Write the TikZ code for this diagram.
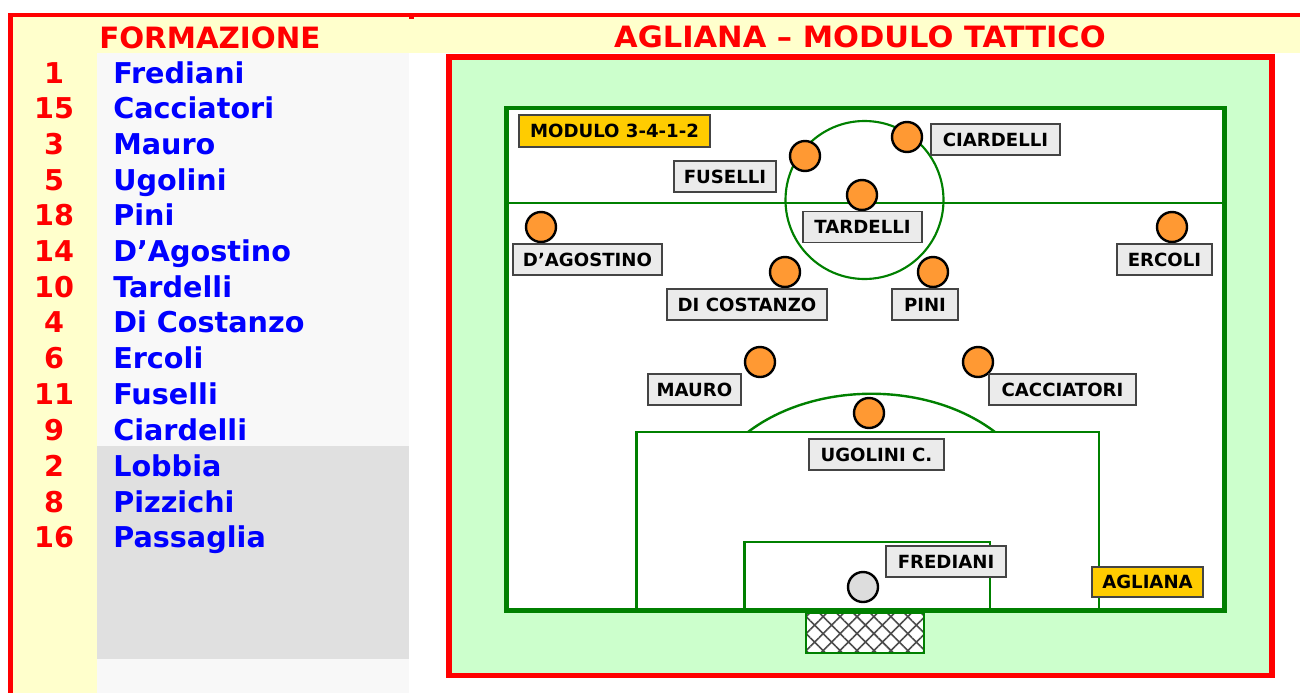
\documentclass[tikz,border=0pt]{standalone}
\usepackage{fontspec}
\setmainfont{DejaVu Sans}
\usetikzlibrary{patterns.meta}
\definecolor{hdr}{HTML}{FFFFCC}
\definecolor{rowlight}{HTML}{F8F8F8}
\definecolor{rowgray}{HTML}{E0E0E0}
\definecolor{fieldgreen}{HTML}{CCFFCC}
\definecolor{linegreen}{HTML}{008000}
\definecolor{orangep}{HTML}{FF9933}
\definecolor{boxgray}{HTML}{EBEBEB}
\definecolor{boxline}{HTML}{444444}
\definecolor{goldbox}{HTML}{FFCC00}
\definecolor{keepergray}{HTML}{DDDDDD}
\definecolor{pured}{HTML}{FF0000}
\definecolor{pureblue}{HTML}{0000FF}
\newcommand\upx{0.75pt}
\newcommand\myListFont{\fontsize{21.5}{25}\selectfont\bfseries}
\newcommand\myTitleFont{\fontsize{22}{26}\selectfont\bfseries}
\newcommand\myLabFont{\fontsize{13.6}{16}\selectfont\bfseries}
\begin{document}
\begin{tikzpicture}[x=0.75pt,y=-0.75pt,
  numtxt/.style={anchor=base, text=pured, font=\myListFont, inner sep=0pt},
  nametxt/.style={anchor=base west, text=pureblue, font=\myListFont, inner sep=0pt},
  titletxt/.style={text=pured, font=\myTitleFont, inner sep=0pt},
  player/.style={circle, draw=black, line width=1.8pt, fill=orangep, minimum size=30*\upx, inner sep=0pt},
  keeper/.style={player, fill=keepergray},
  lab/.style={rectangle, draw=boxline, line width=0.8pt, fill=boxgray, minimum height=31*\upx, inner sep=0pt, font=\myLabFont, text=black},
  goldlab/.style={lab, fill=goldbox},
  pitchline/.style={draw=linegreen, line width=1.8pt}
]
\useasboundingbox (0,0) rectangle (1300,693);
% backgrounds
\fill[white] (0,0) rectangle (1300,693);
\fill[hdr] (13,17) rectangle (1300,53);
\fill[hdr] (13,53) rectangle (97,693);
\fill[rowlight] (97,53) rectangle (409,446);
\fill[rowgray] (97,446) rectangle (409,659);
\fill[rowlight] (97,659) rectangle (409,693);
\fill[pured] (8,13) rectangle (1300,17);
\fill[pured] (8,13) rectangle (13,693);
\fill[pured] (409,15) rectangle (414,18.5);
% titles
\node[titletxt, anchor=base west] (tform) at (99,48) {FORMAZIONE};
\node[titletxt, anchor=base] (tmod) at (860,47) {\scalebox{1.04}[1]{AGLIANA – MODULO TATTICO}};
% list
\foreach \n/\nm/\yy [count=\i] in {1/Frediani/83, 15/Cacciatori/118, 3/Mauro/154, 5/Ugolini/190, 18/Pini/225, 14/D’Agostino/261, 10/Tardelli/297, 4/Di Costanzo/332, 6/Ercoli/368, 11/Fuselli/404, 9/Ciardelli/440, 2/Lobbia/476, 8/Pizzichi/512, 16/Passaglia/547}{
  \node[numtxt] (num\i) at (54,\yy) {\n};
  \node[nametxt] (name\i) at (113,\yy) {\nm};
}
% field frame
\draw[pured, line width=4.4pt, fill=fieldgreen] (449,57) rectangle (1272,675.5);
% pitch
\draw[draw=linegreen, line width=3.6pt, fill=white] (506.5,108) rectangle (1224.5,610.5);
\draw[pitchline] (506.5,203) -- (1224.5,203);
\draw[pitchline, line width=1.6pt] (864.5,200) circle[radius=79];
\draw[pitchline] (748,432) .. controls (815,381) and (928,381) .. (995,432);
\draw[pitchline, line width=2pt] (636.5,610) -- (636.5,432) -- (1099,432) -- (1099,610);
\draw[pitchline, line width=2pt] (744.5,610) -- (744.5,542) -- (990,542) -- (990,610);
% goal net
\fill[white] (806,613) rectangle (924,652.5);
\fill[pattern={Hatch[angle=45,distance=9pt,line width=1.2pt]}, pattern color=black!70] (806,613) rectangle (924,652.5);
\draw[draw=linegreen, line width=1.5pt] (806,613) rectangle (924,652.5);
% players
\node[player] (pCiardelli) at (907,137) {};
\node[player] (pFuselli) at (805,156) {};
\node[player] (pTardelli) at (862,195) {};
\node[player] (pDAgostino) at (541,227) {};
\node[player] (pErcoli) at (1172,227) {};
\node[player] (pDiCostanzo) at (785,272) {};
\node[player] (pPini) at (933,272) {};
\node[player] (pMauro) at (760,362) {};
\node[player] (pCacciatori) at (978,362) {};
\node[player] (pUgolini) at (869,413) {};
\node[keeper] (pFrediani) at (863,587) {};
% labels
\node[goldlab, minimum width=191*\upx, minimum height=32*\upx] (lModulo) at (614.5,131) {MODULO 3-4-1-2};
\node[lab, minimum width=129*\upx] (lCiardelli) at (995.5,139.5) {CIARDELLI};
\node[lab, minimum width=102*\upx] (lFuselli) at (725,176.5) {FUSELLI};
\node[lab, minimum width=119*\upx] (lTardelli) at (862.5,227) {TARDELLI};
\node[lab, minimum width=149*\upx] (lDAgostino) at (587.5,259.5) {D’AGOSTINO};
\node[lab, minimum width=95*\upx] (lErcoli) at (1164.5,259.5) {ERCOLI};
\node[lab, minimum width=160*\upx] (lDiCostanzo) at (747,304.5) {DI COSTANZO};
\node[lab, minimum width=66*\upx] (lPini) at (925,304.5) {PINI};
\node[lab, minimum width=93*\upx] (lMauro) at (694.5,389.5) {MAURO};
\node[lab, minimum width=147*\upx] (lCacciatori) at (1062.5,389.5) {CACCIATORI};
\node[lab, minimum width=135*\upx] (lUgolini) at (876.5,454.5) {UGOLINI C.};
\node[lab, minimum width=120*\upx] (lFrediani) at (946,561.5) {FREDIANI};
\node[goldlab, minimum width=111*\upx, minimum height=30*\upx] (lAgliana) at (1147.5,582) {AGLIANA};
\end{tikzpicture}
\end{document}
